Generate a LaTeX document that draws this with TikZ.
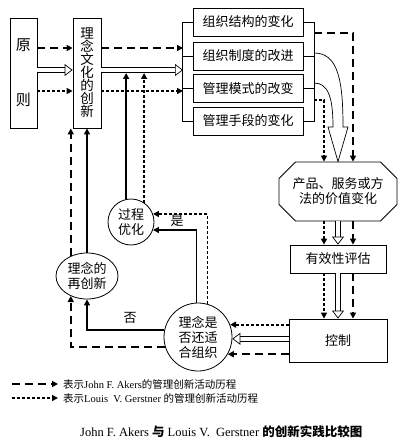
\documentclass[tikz,border=0pt]{standalone}
\usepackage{fontspec}
\setmainfont{Liberation Serif}
\newfontfamily\cjk{Noto Sans CJK SC}
\usetikzlibrary{arrows.meta, shapes.geometric, shapes.misc, positioning, calc}

\begin{document}
\begin{tikzpicture}[x=1pt, y=-1pt,
  box/.style={draw, line width=0.8pt, inner sep=0pt, font=\cjk\fontsize{13}{15}\selectfont},
  akers/.style={line width=1.7pt, dash pattern=on 8pt off 5pt, -{Triangle[length=6pt,width=6pt]}},
  gerst/.style={line width=1.7pt, dash pattern=on 3pt off 2pt, -{Triangle[length=6pt,width=6pt]}},
  solidarr/.style={line width=1.3pt, -{Triangle[length=6pt,width=6pt]}},
  hollow/.style={double, double distance=4pt, line width=0.7pt, -{Triangle[open,length=8pt,width=12pt]}},
  lbl/.style={font=\cjk\fontsize{13}{15}\selectfont, inner sep=1pt}]

\useasboundingbox (0,0) rectangle (400,441);

\node[box, minimum width=27pt, minimum height=110pt, align=center, font=\cjk\fontsize{15}{18}\selectfont] (yuanze) at (23.5,73) {原\\[37pt]则};
\node[box, minimum width=28pt, minimum height=110pt, align=center, font=\cjk\fontsize{13.5}{13}\selectfont] (linian) at (87,73) {理\\念\\文\\化\\的\\创\\新};

\node[box, minimum width=110pt, minimum height=28pt] (jiegou) at (248,22) {组织结构的变化};
\node[box, minimum width=110pt, minimum height=28pt] (zhidu) at (248,56) {组织制度的改进};
\node[box, minimum width=110pt, minimum height=28pt] (moshi) at (248,88.5) {管理模式的改变};
\node[box, minimum width=110pt, minimum height=28pt] (shouduan) at (248,121) {管理手段的变化};

\node[box, chamfered rectangle, chamfered rectangle xsep=14pt, minimum width=99pt, minimum height=59pt, align=center] (jiazhi) at (338,191.5) {产品、服务或方\\法的价值变化};
\node[box, minimum width=96pt, minimum height=28pt] (pinggu) at (338,259) {有效性评估};
\node[box, minimum width=98pt, minimum height=43pt] (kongzhi) at (338,340.5) {控制};

\node[box, circle, minimum size=68pt, align=center] (shifou) at (198,337) {理念是\\否还适\\合组织};
\node[box, circle, minimum size=46pt, align=center] (youhua) at (131,222) {过程\\优化};
\node[box, ellipse, minimum width=62pt, minimum height=46pt, align=center] (zaichuangxin) at (87,276) {理念的\\再创新};

\coordinate (bl) at (183,0);
\coordinate (br) at (314,0);
\coordinate (ra) at (0,48);
\coordinate (rb) at (0,70);
\coordinate (rc) at (0,91);
\coordinate (rbb) at (0,73);
\coordinate (rd) at (0,33);
\coordinate (re) at (0,100);
\coordinate (rf) at (0,53);
\coordinate (rg) at (0,83);
\coordinate (cg) at (324,0);
\coordinate (ch) at (338,0);
\coordinate (ca) at (353,0);

\draw[line width=0.8pt] (jiegou.west) -- ++(-10,0) |- (shouduan.west);
\draw[line width=0.8pt] (zhidu.west) -- ++(-10,0);
\draw[line width=0.8pt] (moshi.west) -- ++(-10,0);
\draw[line width=0.8pt] (jiegou.east) -- ++(11,0) |- (shouduan.east);
\draw[line width=0.8pt] (zhidu.east) -- ++(11,0);
\draw[line width=0.8pt] (moshi.east) -- ++(11,0);

\draw[akers] (yuanze.east |- ra) -- (linian.west |- ra);
\draw[hollow] (yuanze.east |- rb) -- (linian.west |- rb);
\draw[gerst] (yuanze.east |- rc) -- (linian.west |- rc);
\draw[akers] (linian.east |- ra) -- (bl |- ra);
\draw[hollow] (linian.east |- rb) -- (bl |- rb);
\draw[gerst] (linian.east |- rc) -- (bl |- rc);

\draw[akers] (br |- rd) -| (ca |- jiazhi.north);
\draw[gerst] (br |- re) -| (cg |- jiazhi.north);
\draw[line width=0.7pt] (br |- rf) .. controls (338,53) and (343,80) .. (343,127) -- (348,127) -- (ch |- jiazhi.north) -- (328,127) -- (333,127) .. controls (333,97) and (328,83) .. (br |- rg);

\draw[gerst] (cg |- jiazhi.south) -- (cg |- pinggu.north);
\draw[hollow] (ch |- jiazhi.south) -- (ch |- pinggu.north);
\draw[akers] (ca |- jiazhi.south) -- (ca |- pinggu.north);
\draw[gerst] (cg |- pinggu.south) -- (cg |- kongzhi.north);
\draw[hollow] (ch |- pinggu.south) -- (ch |- kongzhi.north);
\draw[akers] (ca |- pinggu.south) -- (ca |- kongzhi.north);

\draw[gerst] (kongzhi.west |- shifou.21) -- (shifou.21);
\draw[hollow] (kongzhi.west |- shifou.-3) -- (shifou.-3);
\draw[akers] (kongzhi.west |- shifou.-30) -- (shifou.-30);

\draw[solidarr] (shifou.93) |- (youhua.-20);
\draw[gerst] (shifou.74) |- (youhua.20);
\node[lbl] (shi) at (177,221) {是};

\draw[solidarr] (youhua.102) -- (youhua.102 |- rbb);
\draw[gerst] (youhua.56) -- (youhua.56 |- rbb);

\draw[solidarr] (shifou.168) -| (zaichuangxin.south);
\draw[akers] (shifou.197) -| (zaichuangxin.231);
\node[lbl] (fou) at (130,318) {否};

\draw[solidarr] (zaichuangxin.north) -- (linian.south);
\draw[akers] (zaichuangxin.129) -- (zaichuangxin.129 |- linian.south);

\coordinate (la1) at (12,384);
\coordinate (la2) at (58,384);
\coordinate (lg1) at (12,398);
\coordinate (lg2) at (58,398);
\draw[akers, line width=1.5pt] (la1) -- (la2);
\draw[gerst, line width=1.5pt] (lg1) -- (lg2);
\node[anchor=west, inner sep=0pt, font=\fontsize{10.5}{12}\selectfont] (akerstext) at (63,384) {{\cjk 表示}John F. Akers{\cjk 的管理创新活动历程}};
\node[anchor=west, inner sep=0pt, font=\fontsize{10.5}{12}\selectfont] (gerstext) at (63,398) {{\cjk 表示}Louis\enspace V. Gerstner {\cjk 的管理创新活动历程}};

\node[anchor=west, inner sep=0pt, font=\fontsize{12.5}{14}\selectfont] (caption) at (80,432) {John F. Akers {\cjk\bfseries 与} Louis V.\enspace Gerstner {\cjk\bfseries 的创新实践比较图}};
\end{tikzpicture}
\end{document}
